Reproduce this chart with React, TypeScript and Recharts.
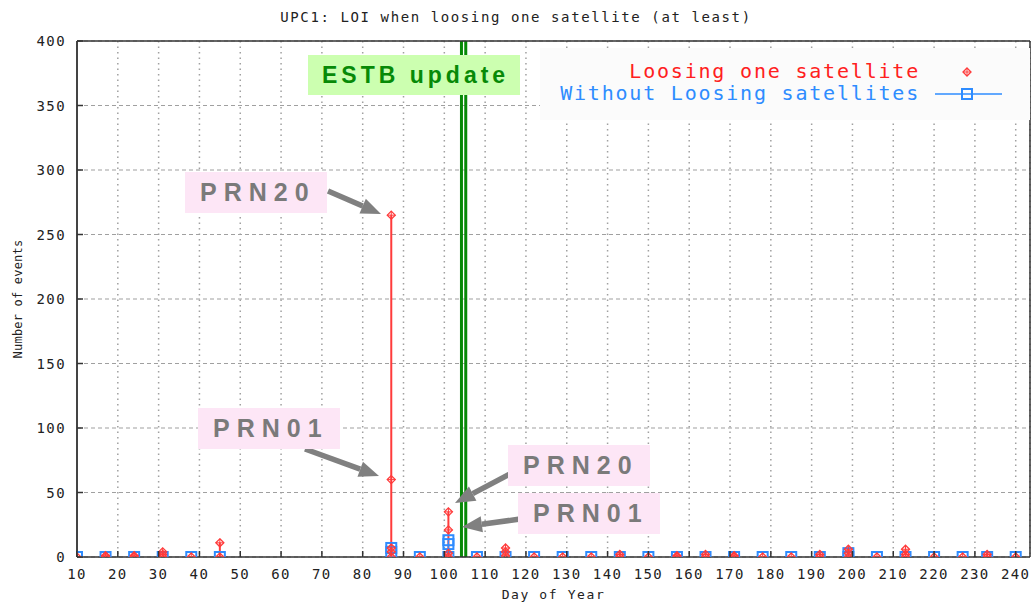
import React from "react";
import {
  ComposedChart,
  Scatter,
  XAxis,
  YAxis,
  CartesianGrid,
  ReferenceLine,
} from "recharts";

// sampling days (day of year) and the number of LOI events seen on each
const sampleDays = [
  10, 17, 24, 31, 38, 45, 87, 94, 101, 108, 115, 122, 129, 136, 143, 150, 157,
  164, 171, 178, 185, 192, 199, 206, 213, 220, 227, 233, 240,
];

// "Loosing one satellite": one value per lost satellite on each day
const lossOneSat: number[][] = [
  [0], [1, 0], [1, 0], [4, 2, 0], [0], [11, 0], [265, 60, 7, 4, 0], [0],
  [35, 21, 3, 0], [0], [7, 4, 1], [0], [0], [0], [2, 0], [0], [1, 0], [2, 0],
  [1, 0], [0], [0], [2, 0], [6, 3, 0], [0], [6, 2, 0], [0], [0], [2, 0], [0],
];

// "Without Loosing satellites"
const withoutLoss: number[][] = [
  [0], [0], [0], [0], [0], [0], [7, 4], [0], [13, 10, 0], [0], [0], [0], [0],
  [0], [0], [0], [0], [0], [0], [0], [0], [0], [3, 0], [0], [0], [0], [0],
  [0], [0],
];

const xTicks = [10, 20, 30, 40, 50, 60, 70, 80, 90, 100, 110, 120, 130, 140, 150, 160, 170, 180, 190, 200, 210, 220, 230, 240];
const yTicks = [0, 50, 100, 150, 200, 250, 300, 350, 400];
const estbUpdate = [104.2, 105.25];

const RED = "#ff3b3b";
const BLUE = "#2e8cff";
const MONO = "'DejaVu Sans Mono', monospace";
const AXIS = "#333";

const toPoints = (groups: number[][]) =>
  groups.flatMap((vals, i) => vals.map((v) => ({ day: sampleDays[i], value: v })));

const toSpans = (groups: number[][]) =>
  groups
    .map((vals, i) => ({ day: sampleDays[i], lo: Math.min(...vals), hi: Math.max(...vals) }))
    .filter((s) => s.hi > s.lo);

const redPoints = toPoints(lossOneSat);
const bluePoints = toPoints(withoutLoss);
const redSpans = toSpans(lossOneSat);
const blueSpans = toSpans(withoutLoss);

const RedMark = (p: any) => {
  const { cx, cy } = p;
  if (cx == null || cy == null) return null;
  return (
    <g>
      <path d={`M${cx},${cy - 4} L${cx + 4},${cy} L${cx},${cy + 4} L${cx - 4},${cy} Z`} fill="none" stroke={RED} strokeWidth={1.3} />
      <path d={`M${cx - 4},${cy} L${cx + 4},${cy} M${cx},${cy - 4} L${cx},${cy + 4}`} stroke={RED} strokeWidth={1} />
    </g>
  );
};

const BlueMark = (p: any) => {
  const { cx, cy } = p;
  if (cx == null || cy == null) return null;
  return <rect x={cx - 5} y={cy - 5} width={10} height={10} fill="none" stroke={BLUE} strokeWidth={2} />;
};

const BottomTick = (p: any) => {
  const { x, y, payload } = p;
  return (
    <g>
      <line x1={x} x2={x} y1={y} y2={y - 6} stroke={AXIS} strokeWidth={1.5} />
      <text x={x} y={y + 22} textAnchor="middle" fontFamily={MONO} fontSize={14} letterSpacing={1.4} fill="#222">
        {payload.value}
      </text>
    </g>
  );
};

const TopTick = (p: any) => {
  const { x, y } = p;
  return <line x1={x} x2={x} y1={y} y2={y + 6} stroke={AXIS} strokeWidth={1.5} />;
};

const LeftTick = (p: any) => {
  const { x, y, payload } = p;
  return (
    <g>
      <line x1={x} x2={x + 6} y1={y} y2={y} stroke={AXIS} strokeWidth={1.5} />
      <text x={x - 11} y={y + 5} textAnchor="end" fontFamily={MONO} fontSize={14} letterSpacing={1.4} fill="#222">
        {payload.value}
      </text>
    </g>
  );
};

const RightTick = (p: any) => {
  const { x, y } = p;
  return <line x1={x} x2={x - 6} y1={y} y2={y} stroke={AXIS} strokeWidth={1.5} />;
};

const Arrow = ({ x1, y1, x2, y2 }: { x1: number; y1: number; x2: number; y2: number }) => {
  const len = Math.hypot(x2 - x1, y2 - y1);
  const ux = (x2 - x1) / len;
  const uy = (y2 - y1) / len;
  const bx = x2 - ux * 20;
  const by = y2 - uy * 20;
  const hw = 8;
  return (
    <g>
      <line x1={x1} y1={y1} x2={bx} y2={by} stroke="#808080" strokeWidth={5.5} />
      <polygon
        points={`${x2},${y2} ${bx - uy * hw},${by + ux * hw} ${bx + uy * hw},${by - ux * hw}`}
        fill="#808080"
      />
    </g>
  );
};

const PrnBox = ({ text, left, top }: { text: string; left: number; top: number }) => (
  <div
    style={{
      position: "absolute",
      left,
      top,
      width: 142,
      height: 41,
      background: "#fde6f6",
      color: "#7a7a7a",
      fontFamily: "'Liberation Sans', Arial, sans-serif",
      fontWeight: "bold",
      fontSize: 25,
      letterSpacing: 7,
      lineHeight: "41px",
      paddingLeft: 15,
      boxSizing: "border-box",
    }}
  >
    {text}
  </div>
);

export default function App() {
  return (
    <div style={{ position: "absolute", left: 0, top: 0, width: 1032, height: 602, background: "#fff", overflow: "hidden" }}>
      <div
        style={{
          position: "absolute",
          left: 0,
          top: 9,
          width: 1032,
          textAlign: "center",
          fontFamily: MONO,
          fontSize: 14,
          letterSpacing: 1.6,
          color: "#222",
        }}
      >
        UPC1: LOI when loosing one satellite (at least)
      </div>

      <ComposedChart
        width={1032}
        height={602}
        margin={{ top: 40, right: 0, bottom: 0, left: 0 }}
        style={{ position: "absolute", left: 0, top: 0 }}
      >
        <CartesianGrid horizontal={false} stroke="#a0a0a0" strokeDasharray="1.5 4" strokeWidth={1.5} />
        <CartesianGrid vertical={false} stroke="#a0a0a0" strokeDasharray="4 3" strokeWidth={1.2} />
        <XAxis
          dataKey="day"
          type="number"
          domain={[10, 243.5]}
          ticks={xTicks}
          height={45}
          tickSize={0}
          tickMargin={0}
          tickLine={false}
          tick={BottomTick}
          axisLine={{ stroke: AXIS, strokeWidth: 1.5 }}
          allowDataOverflow
        />
        <XAxis
          xAxisId="top"
          orientation="top"
          type="number"
          domain={[10, 243.5]}
          ticks={xTicks}
          height={1}
          tickSize={0}
          tickMargin={0}
          tickLine={false}
          tick={TopTick}
          axisLine={{ stroke: AXIS, strokeWidth: 1.5 }}
        />
        <YAxis
          dataKey="value"
          type="number"
          domain={[0, 400]}
          ticks={yTicks}
          width={77}
          tickSize={0}
          tickMargin={0}
          tickLine={false}
          tick={LeftTick}
          axisLine={{ stroke: "#444", strokeWidth: 2 }}
          allowDataOverflow
        />
        <YAxis
          yAxisId="right"
          orientation="right"
          type="number"
          domain={[0, 400]}
          ticks={yTicks}
          width={2}
          tickSize={0}
          tickMargin={0}
          tickLine={false}
          tick={RightTick}
          axisLine={{ stroke: AXIS, strokeWidth: 1.5 }}
        />

        {estbUpdate.map((d) => (
          <ReferenceLine key={`estb-${d}`} x={d} stroke="#078a07" strokeWidth={3} />
        ))}
        {redSpans.map((s) => (
          <ReferenceLine
            key={`rs-${s.day}`}
            segment={[{ x: s.day, y: s.lo }, { x: s.day, y: s.hi }]}
            stroke={RED}
            strokeWidth={2}
          />
        ))}
        {blueSpans.map((s) => (
          <ReferenceLine
            key={`bs-${s.day}`}
            segment={[{ x: s.day, y: s.lo }, { x: s.day, y: s.hi }]}
            stroke={BLUE}
            strokeWidth={1.5}
          />
        ))}
        <Scatter name="Without Loosing satellites" data={bluePoints} dataKey="value" shape={BlueMark} isAnimationActive={false} />
        <Scatter name="Loosing one satellite" data={redPoints} dataKey="value" shape={RedMark} isAnimationActive={false} />
      </ComposedChart>

      <div
        style={{
          position: "absolute",
          left: 0,
          top: 587,
          width: 1107,
          textAlign: "center",
          fontFamily: MONO,
          fontSize: 13,
          letterSpacing: 1.6,
          color: "#222",
        }}
      >
        Day of Year
      </div>
      <div
        style={{
          position: "absolute",
          left: 18,
          top: 299,
          transform: "translate(-50%, -50%) rotate(-90deg)",
          whiteSpace: "nowrap",
          fontFamily: MONO,
          fontSize: 12,
          letterSpacing: 0.2,
          color: "#222",
        }}
      >
        Number of events
      </div>

      {/* legend */}
      <div style={{ position: "absolute", left: 540, top: 48, width: 490, height: 72, background: "#fbfbfb" }} />
      <div
        style={{
          position: "absolute",
          right: 1032 - 920,
          top: 59,
          fontFamily: MONO,
          fontSize: 20,
          letterSpacing: 1.8,
          color: "#ff2020",
          whiteSpace: "nowrap",
        }}
      >
        Loosing one satellite
      </div>
      <div
        style={{
          position: "absolute",
          right: 1032 - 920,
          top: 81,
          fontFamily: MONO,
          fontSize: 20,
          letterSpacing: 1.8,
          color: BLUE,
          whiteSpace: "nowrap",
        }}
      >
        Without Loosing satellites
      </div>
      <svg width={1032} height={602} style={{ position: "absolute", left: 0, top: 0 }}>
        <RedMark cx={967} cy={72} />
        <line x1={935} x2={1002} y1={94} y2={94} stroke={BLUE} strokeWidth={1.5} />
        <BlueMark cx={967} cy={94} />
        <Arrow x1={328} y1={191} x2={381} y2={214} />
        <Arrow x1={305} y1={449} x2={379} y2={476} />
        <Arrow x1={510} y1={474} x2={455} y2={503} />
        <Arrow x1={520} y1={519} x2={462} y2={527} />
      </svg>

      <div
        style={{
          position: "absolute",
          left: 308,
          top: 55,
          width: 212,
          height: 40,
          background: "#ccffb0",
          color: "#078a07",
          fontFamily: "'Liberation Sans', Arial, sans-serif",
          fontWeight: "bold",
          fontSize: 23,
          letterSpacing: 4,
          lineHeight: "40px",
          paddingLeft: 14,
          boxSizing: "border-box",
          whiteSpace: "nowrap",
        }}
      >
        ESTB update
      </div>
      <PrnBox text="PRN20" left={185} top={172} />
      <PrnBox text="PRN01" left={198} top={408} />
      <PrnBox text="PRN20" left={508} top={445} />
      <PrnBox text="PRN01" left={518} top={493} />
    </div>
  );
}
